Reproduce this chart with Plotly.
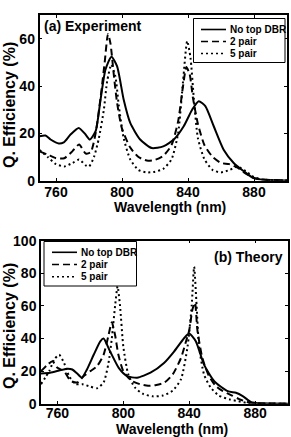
import plotly.graph_objects as go

# ---------------- data: (a) Experiment ----------------
exp_none_x = [750, 753.6, 756.7, 761.7, 764.7, 768.8, 773.8, 777.9, 780.5, 784, 787, 790, 793.6, 797, 801, 805,
              811, 818, 825, 831.4, 837.4, 842.5, 846.5, 850.5, 855.6, 861.6, 867.7, 873.8, 879.8, 886, 893, 900]
exp_none_y = [18.8, 19.1, 17.4, 15.7, 16.2, 19.5, 22.3, 19.5, 17.4, 20.9, 34.3, 47, 52.4, 48.4, 34.3, 24.4,
              17.4, 13.8, 14.5, 17.4, 23, 30, 33.6, 31.5, 23, 13.1, 7.5, 4, 1.1, 0.4, 0.2, 0.1]

exp_2p_x = [750, 755, 760, 765, 770, 774, 778, 781, 784, 787, 789.5, 791.5, 793, 795, 797, 800, 805, 810, 815,
            820, 825, 830, 834, 837, 839, 841, 843, 846, 850, 855, 860, 865, 870, 875, 880, 885, 900]
exp_2p_y = [12.4, 11, 9.5, 9.5, 12.5, 15.3, 11.5, 12, 20, 35, 50, 62, 58, 45, 33, 22, 14, 10, 8.5,
            8.8, 10.5, 15, 25, 40, 48, 45, 35, 24, 15, 10, 7.5, 7, 5.5, 3, 1.2, 0.5, 0.1]

exp_5p_x = [750, 755, 760, 765, 770, 774, 778, 780, 783, 786, 789, 791, 793.5, 796, 798, 801, 805, 810, 815,
            820, 825, 830, 834, 837, 839.5, 841.5, 843.5, 846, 850, 855, 860, 865, 870, 875, 880, 885, 900]
exp_5p_y = [13, 10, 7, 6, 7.5, 9, 6.5, 6, 10, 18, 30, 42, 49, 44, 32, 18, 9, 4.5, 3.5,
            3.8, 5, 9, 20, 42, 59, 52, 35, 18, 9, 4.5, 3.5, 4.5, 6, 4, 1.5, 0.5, 0.1]

# ---------------- data: (b) Theory ----------------
th_none_x = [750, 755.5, 761.6, 766, 769, 772, 774.8, 777.9, 782, 786, 788, 792, 797.2, 802.3, 808.4, 816.5,
             824.7, 830.8, 837, 840, 844, 849, 855.2, 863.4, 868.4, 872.5, 877.6, 883.7, 890, 900]
th_none_y = [18.5, 19, 20.5, 21.5, 21, 18.5, 16, 21, 30, 38.3, 40, 32, 22, 16.9, 15.9, 19,
             25, 32, 40.3, 43, 38.3, 24, 13.8, 7.7, 6.7, 4.7, 1, 0.2, 0.1, 0]

th_2p_x = [750, 754, 757, 760, 764, 768, 772, 776, 780, 784, 788, 791, 793, 795, 797, 800, 805, 810, 815,
           820, 825, 830, 835, 838, 840, 842, 843.5, 845, 848, 852, 856, 860, 866, 870, 875, 880, 890, 900]
th_2p_y = [20, 24, 26, 22, 20, 14, 13, 17, 20, 23, 30, 42, 50, 42, 30, 20, 14, 12, 11,
           11.5, 13, 18, 28, 38, 45, 58, 62, 45, 28, 17, 11, 8, 5, 3, 1, 0.2, 0.1, 0]

th_5p_x = [750, 755, 758, 761, 764, 767, 771, 775, 780, 784, 788, 791, 793, 795, 796.5, 798, 800, 803, 807,
           812, 818, 824, 830, 835, 839, 841.5, 843, 844.5, 846, 849, 853, 858, 865, 870, 875, 880, 890, 900]
th_5p_y = [12, 20, 27, 30, 25, 17, 12, 12, 10.5, 9.5, 13, 25, 40, 60, 72, 60, 35, 18, 10,
           6, 4.5, 5, 8, 15, 35, 60, 84, 60, 35, 18, 10, 5, 2.5, 1.5, 0.5, 0.1, 0, 0]

series_names = ["No top DBR", "2 pair", "5 pair"]
x_ticks = [760, 800, 840, 880]
panel_titles = ["(a) Experiment", "(b) Theory"]
x_title = "Wavelength (nm)"
y_title = "Q. Efficiency (%)"

dashes = ["solid", "7px,4px", "2px,3px"]
FONT = "Liberation Sans"
W, H = 291, 437

fig = go.Figure()
exp_sets = [(exp_none_x, exp_none_y), (exp_2p_x, exp_2p_y), (exp_5p_x, exp_5p_y)]
th_sets = [(th_none_x, th_none_y), (th_2p_x, th_2p_y), (th_5p_x, th_5p_y)]

for (xs, ys), name, d in zip(exp_sets, series_names, dashes):
    fig.add_trace(go.Scatter(x=xs, y=ys, name=name, mode="lines", showlegend=False,
                             line=dict(color="black", width=2, dash=d, shape="spline", smoothing=0.6),
                             xaxis="x", yaxis="y"))
for (xs, ys), name, d in zip(th_sets, series_names, dashes):
    fig.add_trace(go.Scatter(x=xs, y=ys, name=name, mode="lines", showlegend=False,
                             line=dict(color="black", width=2, dash=d, shape="spline", smoothing=0.6),
                             xaxis="x2", yaxis="y2"))

tickfont = dict(family=FONT, size=14, color="black", weight="bold")
xtitlefont = dict(family=FONT, size=14, color="black", weight="bold")
ytitlefont = dict(family=FONT, size=16, color="black", weight="bold")

def xax(domain, anchor, standoff):
    return dict(domain=domain, anchor=anchor, range=[750, 900], tickvals=x_ticks,
                ticks="inside", ticklen=3, tickcolor="black", showline=True, linecolor="black",
                linewidth=1.5, mirror="allticks", showgrid=False, zeroline=False,
                tickfont=tickfont, automargin=False, ticklabelstandoff=standoff)

def yax(domain, anchor, rng):
    return dict(domain=domain, anchor=anchor, range=rng, dtick=20,
                ticks="inside", ticklen=3, tickcolor="black", showline=True, linecolor="black",
                linewidth=1.5, mirror="allticks", showgrid=False, zeroline=False,
                tickfont=tickfont, automargin=False)

annotations = []
shapes = []

def px_x(p):
    return p / W

def px_y(p):
    return 1 - p / H

# axis titles (placed as paper annotations, like the tight original layout)
for xc, yc in [(170, 207), (172, 428.5)]:
    annotations.append(dict(text=x_title, xref="paper", yref="paper", x=px_x(xc), y=px_y(yc),
                            xanchor="center", yanchor="middle", showarrow=False, font=xtitlefont,
                            borderpad=0))
for xc, yc in [(9, 105), (9, 326)]:
    annotations.append(dict(text=y_title, xref="paper", yref="paper", x=px_x(xc), y=px_y(yc),
                            xanchor="center", yanchor="middle", textangle=-90, showarrow=False,
                            font=ytitlefont))

# panel labels
annotations.append(dict(text=panel_titles[0], xref="paper", yref="paper", x=px_x(42), y=px_y(26),
                        xanchor="left", yanchor="middle", showarrow=False,
                        font=dict(family=FONT, size=14, color="black", weight="bold")))
annotations.append(dict(text=panel_titles[1], xref="paper", yref="paper", x=px_x(285), y=px_y(257),
                        xanchor="right", yanchor="middle", showarrow=False,
                        font=dict(family=FONT, size=14, color="black", weight="bold")))

# hand-drawn legends (boxes with line samples and labels)
legfont = dict(family=FONT, size=10, color="black", weight="bold")
for box, line_x, text_x, rows in [
    ((193.5, 18.5, 285, 62.5), (201, 226), 228, (29.5, 41.5, 53.5)),
    ((44, 241.5, 136.5, 286), (52, 77), 79, (252.3, 264.5, 276.8)),
]:
    shapes.append(dict(type="rect", xref="paper", yref="paper",
                       x0=px_x(box[0]), x1=px_x(box[2]), y0=px_y(box[1]), y1=px_y(box[3]),
                       line=dict(color="black", width=1), fillcolor="white", layer="above"))
    for name, d, ry in zip(series_names, dashes, rows):
        shapes.append(dict(type="line", xref="paper", yref="paper",
                           x0=px_x(line_x[0]), x1=px_x(line_x[1]), y0=px_y(ry), y1=px_y(ry),
                           line=dict(color="black", width=1.6, dash=d), layer="above"))
        annotations.append(dict(text=name, xref="paper", yref="paper", x=px_x(text_x), y=px_y(ry),
                                xanchor="left", yanchor="middle", showarrow=False, font=legfont))

fig.update_layout(
    width=W, height=H,
    margin=dict(l=0, r=0, t=0, b=0),
    paper_bgcolor="white", plot_bgcolor="white",
    showlegend=False,
    xaxis=xax([39.5 / W, 287 / W], "y", -2),
    yaxis=yax([1 - 180.7 / H, 1 - 15 / H], "x", [0, 70]),
    xaxis2=xax([41 / W, 288 / W], "y2", -4),
    yaxis2=yax([1 - 403.7 / H, 1 - 240.7 / H], "x2", [0, 100]),
    annotations=annotations,
    shapes=shapes,
)

fig.write_html("out.html")
